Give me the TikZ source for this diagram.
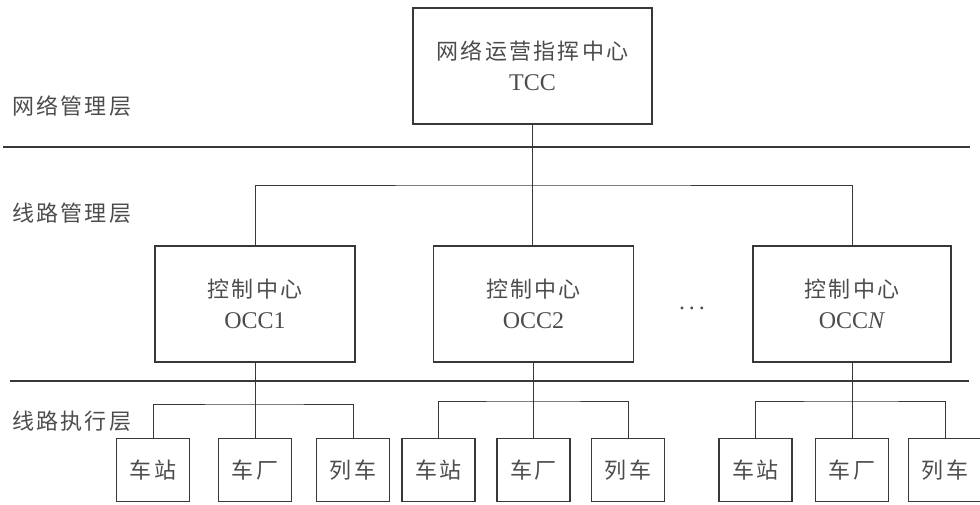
\documentclass[tikz,border=0pt]{standalone}
\usepackage{fontspec}
\setmainfont{Liberation Serif}
\newfontfamily\cjk[LetterSpace=10]{Noto Sans CJK SC}
\newcommand\cjkline[1]{{\fontsize{22}{31}\selectfont\cjk #1}}
\definecolor{textc}{gray}{0.30}
\definecolor{linec}{gray}{0.22}
\begin{document}
\begin{tikzpicture}[x=1pt,y=-1pt,
  box/.style={draw=linec, line width=1.5pt, inner sep=0pt, outer sep=0pt, text=textc, align=center, font=\fontsize{24}{31}\selectfont},
  occbox/.style={box, minimum width=200pt, minimum height=116pt},
  leaf/.style={box, minimum width=73pt, minimum height=63pt, font=\fontsize{22}{26}\selectfont},
  conn/.style={draw=linec, line width=0.9pt},
  sep/.style={draw=linec, line width=1.6pt},
  layer/.style={anchor=west, inner sep=0pt, text=textc, font=\fontsize{22}{26}\selectfont\cjk}]
\useasboundingbox (0,0) rectangle (980,504);

% separators
\coordinate (s1a) at (3,147); \coordinate (s1b) at (970,147);
\coordinate (s2a) at (10,381); \coordinate (s2b) at (969,381);
\draw[sep] (s1a) -- (s1b);
\draw[sep] (s2a) -- (s2b);

% layer labels
\node[layer] (l1) at (12,106) {网络管理层};
\node[layer] (l2) at (12,213) {线路管理层};
\node[layer] (l3) at (12,421) {线路执行层};

% top
\node[box, minimum width=239pt, minimum height=116pt] (tcc) at (532.5,66) {\cjkline{网络运营指挥中心}\\TCC};

% OCCs
\node[occbox] (occ1) at (255,304) {\cjkline{控制中心}\\OCC1};
\node[occbox] (occ2) at (533.5,304) {\cjkline{控制中心}\\OCC2};
\node[box, minimum width=198pt, minimum height=116pt] (occN) at (852,304) {\cjkline{控制中心}\\OCC\textit{N}};
\node[text=textc, inner sep=0pt, font=\fontsize{24}{26}\selectfont] (dots) at (692,308) {.\hspace{4pt}.\hspace{4pt}.};

% leaves
\foreach \n/\x/\t in {a1/153/车站, a2/255/车厂, a3/353/列车,
                      b1/438.5/车站, b2/533.5/车厂, b3/628/列车,
                      c1/755.5/车站, c2/852/车厂, c3/945/列车}
  \node[leaf] (\n) at (\x,470) {\cjk \t};

% connectors top
\path (tcc.south) ++(0,61) coordinate (hub);
\draw[conn] (tcc.south) -- (hub);
\draw[conn] (occ1.north) |- (hub) -| (occN.north);
\draw[conn] (hub) -- (hub |- occ2.north);

% connectors bottom
\path (occ1.south) ++(0,42) coordinate (h1);
\draw[conn] (occ1.south) -- (occ1.south |- a2.north);
\draw[conn] (a1.north) |- (h1) -| (a3.north);
\path (occ2.south) ++(0,39) coordinate (h2);
\draw[conn] (occ2.south) -- (occ2.south |- b2.north);
\draw[conn] (b1.north) |- (h2) -| (b3.north);
\path (occN.south) ++(0,39) coordinate (h3);
\draw[conn] (occN.south) -- (occN.south |- c2.north);
\draw[conn] (c1.north) |- (h3) -| (c3.north);
\end{tikzpicture}
\end{document}
